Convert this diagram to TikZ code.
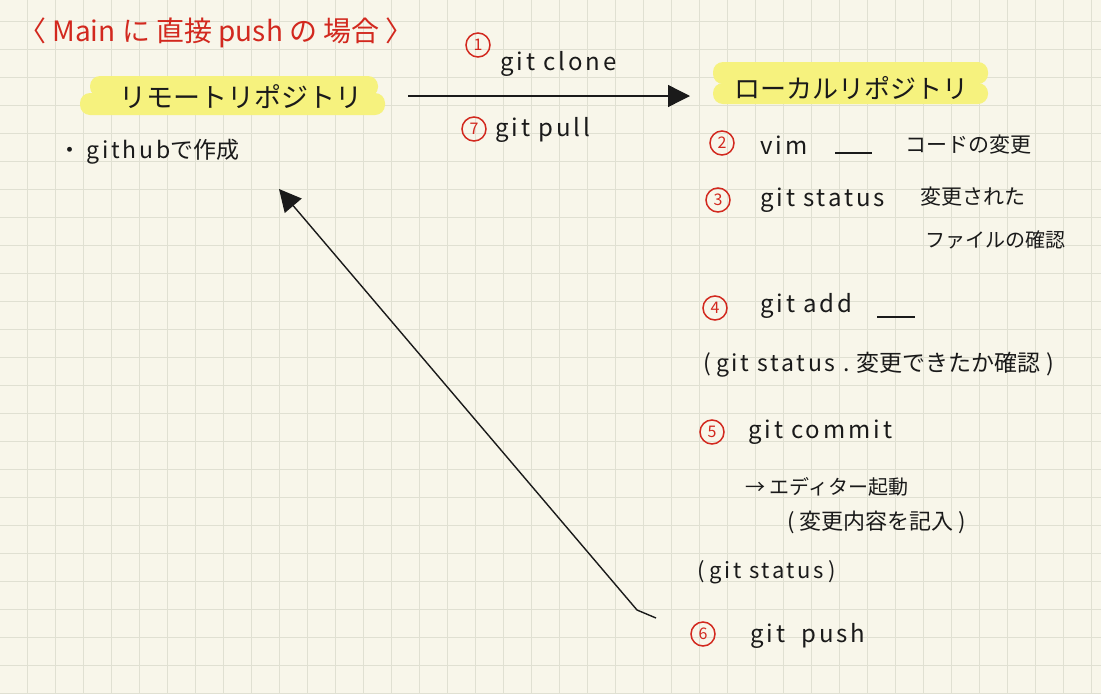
\documentclass[tikz,border=0pt]{standalone}
\usepackage{fontspec}
\setmainfont{Noto Sans CJK JP}
\usetikzlibrary{positioning,arrows.meta,calc}
\definecolor{papel}{HTML}{F8F6EA}
\definecolor{cuadro}{HTML}{E0E0D2}
\definecolor{rojo}{HTML}{D2281E}
\definecolor{marcador}{HTML}{F6F27E}
\definecolor{tinta}{HTML}{1A1A1A}
\newcommand{\esp}[1]{{\addfontfeature{LetterSpace=12}#1}}
\tikzset{
  nota/.style={font=\fontsize{22}{26}\selectfont,color=tinta,inner sep=0pt,anchor=west},
  orden/.style={nota,font=\fontsize{24}{28}\selectfont\addfontfeature{LetterSpace=12}},
  titulo/.style={font=\fontsize{28}{30}\selectfont,color=rojo,inner sep=0pt,anchor=west},
  repo/.style={font=\fontsize{27}{30}\selectfont,color=tinta,inner sep=0pt},
  numero/.style={circle,draw=rojo,line width=1.5pt,text=rojo,font=\fontsize{16}{16}\selectfont,inner sep=0pt,minimum size=24pt},
  resaltado/.style={fill=marcador,rounded corners=10pt},
  flecha/.style={-{Triangle[length=22pt,width=22pt]},line width=1.4pt,color=tinta},
  raya/.style={line width=1.4pt,color=tinta},
}

\begin{document}
\begin{tikzpicture}[x=1pt,y=-1pt]
  % papel cuadriculado 1101x694
  \fill[papel] (0,0) rectangle (1101,694);
  \useasboundingbox (0,0) rectangle (1101,694);
  \foreach \i in {0,...,38}{
    \draw[cuadro,line width=1.4pt] ({27.3+28*\i},0) -- ++(0,694);
  }
  \foreach \j in {0,...,24}{
    \draw[cuadro,line width=1.4pt] (0,{21.3+28*\j}) -- ++(1101,0);
  }
  \newcommand{\paso}[4]{% #1 nombre, #2 x, #3 y, #4 numero
    \node[numero] (#1) at (#2,#3) {#4};}
  % titulo
  \node[titulo] (titulo) at (18,33) {〈 Main に 直接 push の 場合 〉};
  % marcador amarillo
  \fill[resaltado] (90,76) rectangle (378,97);
  \fill[resaltado] (80,93) rectangle (385,115);
  \fill[resaltado] (713,62) rectangle (988,84);
  \fill[resaltado] (713,83) rectangle (988,104);
  \node[repo] (remoto) at (241,97) {リモートリポジトリ};
  \node[repo,font=\fontsize{26}{30}\selectfont] (local) at (851,88) {ローカルリポジトリ};
  \node[nota,font=\fontsize{23}{26}\selectfont] (github) at (58,152) {・ \esp{github}で作成};
  % clone / pull
  \paso{n1}{478}{45}{1}
  \node[orden] (clone) at (500,64) {git clone};
  \paso{n7}{474}{129}{7}
  \node[orden] (pull) at (495,130) {git pull};
  \coordinate (cloneini) at (408,96);
  \coordinate (clonefin) at (690,96);
  \draw[flecha] (cloneini) -- (clonefin);
  % pasos locales
  \paso{n2}{722}{143}{2}
  \node[orden] (vim) at (760,145) {vim};
  \draw[raya] (835,153) -- (872,153);
  \node[nota,font=\fontsize{21}{24}\selectfont] (codigo) at (905,145) {コードの変更};
  \paso{n3}{718}{200}{3}
  \node[orden] (status) at (760,200) {git status};
  \node[nota,font=\fontsize{21}{24}\selectfont] (cambio) at (920,197) {変更された};
  \node[nota,font=\fontsize{20}{24}\selectfont] (archivo) at (925,240) {ファイルの確認};
  \paso{n4}{715}{308}{4}
  \node[orden] (add) at (760,306) {git add};
  \draw[raya] (877,317) -- (915,317);
  \node[nota,font=\fontsize{23}{26}\selectfont] (statusb) at (703,365) {( \esp{git status .} 変更できたか確認 )};
  \paso{n5}{712}{432}{5}
  \node[orden] (commit) at (748,432) {git commit};
  \node[nota,font=\fontsize{20}{24}\selectfont] (editor) at (745,487) {→ エディター起動};
  \node[nota] (registro) at (787,522) {( 変更内容を記入 )};
  \node[nota] (statusc) at (697,572) {( \esp{git status} )};
  \paso{n6}{703}{634}{6}
  \node[orden] (push) at (750,636) {git\hspace{8pt} push};
  % push hacia remoto
  \coordinate (pushini) at (656,618);
  \coordinate (pushfin) at (279,189);
  \draw[flecha] (pushini) -- (637,610) -- (pushfin);
\end{tikzpicture}
\end{document}
